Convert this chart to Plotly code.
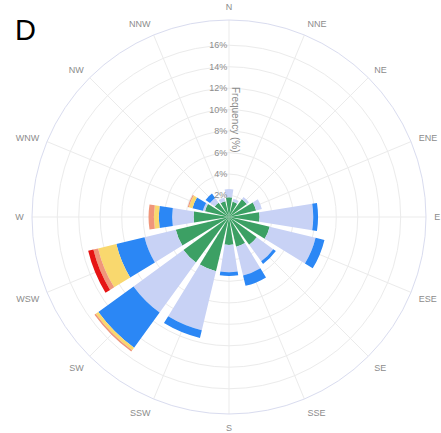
import plotly.graph_objects as go

# Wind directions (16-point compass), clockwise from north
directions = ["N", "NNE", "NE", "ENE", "E", "ESE", "SE", "SSE",
              "S", "SSW", "SW", "WSW", "W", "WNW", "NW", "NNW"]

# Frequency (%) contributed by each wind-speed class, stacked outward
speed_0 = [1.85, 1.45, 2.05, 2.6, 2.85, 3.9, 3.2, 2.85, 2.6, 5.2, 5.25, 5.1, 3.3, 2.3, 1.65, 1.5]
speed_1 = [0.75, 0.3, 0.25, 0.55, 5.0, 4.4, 1.9, 2.75, 2.55, 5.65, 5.75, 3.0, 2.0, 0.2, 0.55, 0.35]
speed_2 = [0, 0, 0, 0, 0.45, 0.85, 0.3, 1.0, 0.35, 0.75, 4.05, 2.7, 1.25, 1.0, 0.5, 0]
speed_3 = [0, 0, 0, 0, 0, 0, 0, 0, 0, 0, 0.3, 1.75, 0.45, 0.35, 0, 0]
speed_4 = [0, 0, 0, 0, 0, 0, 0, 0, 0, 0, 0.15, 0.45, 0.5, 0.1, 0, 0]
speed_5 = [0, 0, 0, 0, 0, 0, 0, 0, 0, 0, 0, 0.5, 0, 0, 0, 0]

class_names = ["0-2 m/s", "2-4 m/s", "4-6 m/s", "6-8 m/s", "8-10 m/s", ">10 m/s"]
class_colors = ["#3ca064", "#c8d2f5", "#2b87f5", "#f9d86e", "#f0967a", "#e61414"]

radial_ticks = [2, 4, 6, 8, 10, 12, 14, 16]
radial_max = 18.36

fig = go.Figure()
for name, values, color in zip(class_names,
                               [speed_0, speed_1, speed_2, speed_3, speed_4, speed_5],
                               class_colors):
    fig.add_trace(go.Barpolar(
        r=values,
        theta=directions,
        name=name,
        width=0.8,  # in category units: 80% of each 22.5° sector
        marker=dict(color=color, line=dict(width=0)),
        showlegend=False,
    ))

font_family = "Liberation Sans, Arial, sans-serif"
tick_font = dict(family=font_family, size=9, color="#8c8c8c")

fig.update_layout(
    width=441,
    height=433,
    margin=dict(l=32, r=15, t=20, b=19),
    paper_bgcolor="white",
    plot_bgcolor="white",
    polar=dict(
        domain=dict(x=[0, 1], y=[0, 1]),
        bgcolor="white",
        barmode="stack",
        radialaxis=dict(
            range=[0, radial_max],
            angle=90,
            side="counterclockwise",
            tickangle=90,
            tickvals=radial_ticks,
            ticktext=[f"{v}%" for v in radial_ticks],
            tickfont=tick_font,
            showline=False,
            ticks="",
            gridcolor="#ebebeb",
            gridwidth=1,
        ),
        angularaxis=dict(
            type="category",
            direction="clockwise",
            rotation=90,
            categoryorder="array",
            categoryarray=directions,
            tickfont=tick_font,
            ticks="outside",
            ticklen=6,
            tickcolor="rgba(0,0,0,0)",
            gridcolor="#ebebeb",
            linecolor="#d9dcef",
            linewidth=1,
            showline=True,
        ),
    ),
    annotations=[
        dict(
            text="D",
            xref="paper", yref="paper",
            x=-0.047, y=0.975,
            xanchor="left", yanchor="middle",
            showarrow=False,
            font=dict(family=font_family, size=29, color="black"),
        ),
        # radial axis title, running down the right side of the north spoke
        dict(
            text="Frequency (%)",
            xref="paper", yref="paper",
            x=(236 - 32) / 394, y=1 - (120 - 20) / 394,
            xanchor="center", yanchor="middle",
            textangle=90,
            showarrow=False,
            font=dict(family=font_family, size=10, color="#8c8c8c"),
        ),
    ],
)

fig.write_html("out.html")
